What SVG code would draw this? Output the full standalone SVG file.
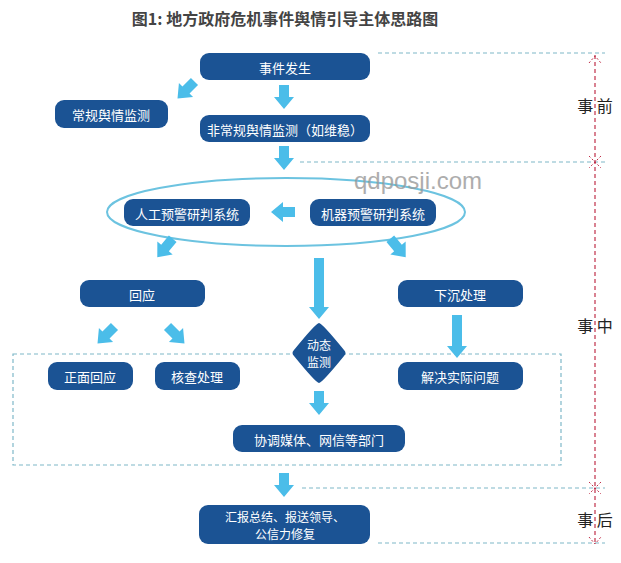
<svg xmlns="http://www.w3.org/2000/svg" width="621" height="563" viewBox="0 0 621 563">
<defs>
<style>
.n{fill:#1b5394}
.t{fill:#fff;font-family:"Noto Sans CJK SC",sans-serif;font-size:13px;text-anchor:middle;dominant-baseline:central}
.t2{fill:#fff;font-family:"Noto Sans CJK SC",sans-serif;font-size:12px;text-anchor:middle}
.ar{fill:#4bbde9}
.cy{stroke:#7fb8c8;stroke-width:1.2;stroke-dasharray:4 3;fill:none}
.lb{font-family:"Noto Sans CJK SC",sans-serif;font-size:16px;fill:#222;text-anchor:middle;dominant-baseline:central}
</style>
<path id="a" d="M-5,-12 H5 V0 H10 L0,12 L-10,0 H-5 Z"/>
</defs>
<rect width="621" height="563" fill="#fff"/>
<text x="285" y="18" font-family="Noto Sans CJK SC,sans-serif" font-size="16" font-weight="bold" fill="#444" text-anchor="middle" dominant-baseline="central">图1: 地方政府危机事件舆情引导主体思路图</text>
<g id="frame">
<ellipse cx="286" cy="212" rx="179" ry="34" fill="none" stroke="#6cc3e0" stroke-width="2"/>
<rect x="13" y="354" width="548" height="111" class="cy"/>
<line x1="378" y1="53" x2="605" y2="53" class="cy"/>
<line x1="300" y1="162" x2="605" y2="162" class="cy"/>
<line x1="302" y1="488" x2="605" y2="488" class="cy"/>
<line x1="378" y1="543" x2="605" y2="543" class="cy"/>
<line x1="595" y1="55" x2="595" y2="545" stroke="#c0304a" stroke-width="1.2" stroke-dasharray="4 3"/>
<path d="M589,63 L595,56 L601,63 M589,156 L601,168 M601,156 L589,168 M589,482 L601,494 M601,482 L589,494 M589,537 L595,544 L601,537" stroke="#c0304a" stroke-width="1" stroke-dasharray="2 2" fill="none"/>
<text x="595" y="105" class="lb">事 前</text>
<text x="595" y="325" class="lb">事 中</text>
<text x="595" y="519" class="lb">事 后</text>
<text x="418" y="180" font-family="Liberation Sans,sans-serif" font-size="24" fill="#999" text-anchor="middle" dominant-baseline="central" opacity="0.8">qdposji.com</text>
</g>
<g id="connectors" class="ar">
<use href="#a" transform="translate(284,97)"/>
<use href="#a" transform="translate(284,158)"/>
<use href="#a" transform="translate(186,90) rotate(45)"/>
<use href="#a" transform="translate(283,212) rotate(90)"/>
<use href="#a" transform="translate(165,248) rotate(40)"/>
<use href="#a" transform="translate(398,248) rotate(-40)"/>
<path d="M314,258 H324 V307 H329 L319,319 L309,307 H314 Z"/>
<path d="M452,315 H462 V346 H467 L457,358 L447,346 H452 Z"/>
<use href="#a" transform="translate(106,335) rotate(45)"/>
<use href="#a" transform="translate(176,335) rotate(-45)"/>
<use href="#a" transform="translate(319,403)"/>
<use href="#a" transform="translate(284,485)"/>
</g>
<g id="n1"><rect x="200" y="53" width="170" height="27" rx="9" class="n"/><text x="285" y="67" class="t">事件发生</text></g>
<g id="n2"><rect x="55" y="100" width="113" height="28" rx="9" class="n"/><text x="111" y="114" class="t">常规舆情监测</text></g>
<g id="n3"><rect x="200" y="115" width="170" height="27" rx="9" class="n"/><text x="285" y="129" class="t">非常规舆情监测（如维稳）</text></g>
<g id="n4"><rect x="124" y="199" width="126" height="27" rx="9" class="n"/><text x="187" y="213" class="t">人工预警研判系统</text></g>
<g id="n5"><rect x="310" y="199" width="126" height="27" rx="9" class="n"/><text x="373" y="213" class="t">机器预警研判系统</text></g>
<g id="n6"><rect x="80" y="280" width="125" height="27" rx="9" class="n"/><text x="142" y="294" class="t">回应</text></g>
<g id="n7"><rect x="398" y="280" width="125" height="27" rx="9" class="n"/><text x="460" y="294" class="t">下沉处理</text></g>
<g id="n8"><rect x="48" y="362" width="85" height="28" rx="9" class="n"/><text x="90" y="376" class="t">正面回应</text></g>
<g id="n9"><rect x="155" y="362" width="85" height="28" rx="9" class="n"/><text x="197" y="376" class="t">核查处理</text></g>
<g id="n10"><rect x="398" y="362" width="125" height="28" rx="9" class="n"/><text x="460" y="376" class="t">解决实际问题</text></g>
<g id="n11"><path d="M319,323 Q322,323 344,350 Q347,353 344,356 Q322,383 319,383 Q316,383 294,356 Q291,353 294,350 Q316,323 319,323 Z" class="n"/><text x="319" y="350" class="t2">动态</text><text x="319" y="367" class="t2">监测</text></g>
<g id="n12"><rect x="233" y="425" width="172" height="27" rx="9" class="n"/><text x="319" y="439" class="t">协调媒体、网信等部门</text></g>
<g id="n13"><rect x="199" y="505" width="171" height="39" rx="9" class="n"/><text x="285" y="522" class="t2">汇报总结、报送领导、</text><text x="285" y="539" class="t2">公信力修复</text></g>
</svg>
